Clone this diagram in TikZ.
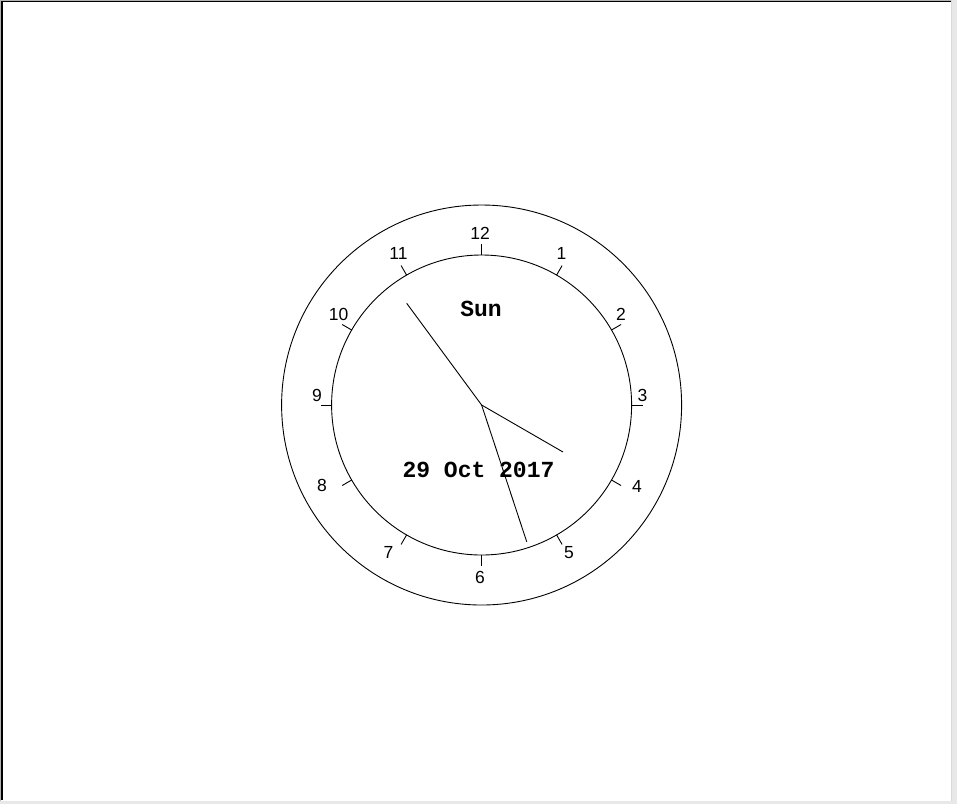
\documentclass[tikz,border=0pt]{standalone}
\usepackage{fontspec}
\setmainfont{Liberation Sans}
\newfontfamily\monob{Liberation Mono}[BoldFont={Liberation Mono Bold}]
\usetikzlibrary{calc}
\begin{document}
\begin{tikzpicture}[x=1pt,y=-1pt,
  clockline/.style={line width=0.9pt,draw=black},
  hourlbl/.style={inner sep=0pt,font=\fontsize{17.5}{20}\selectfont},
  monolbl/.style={inner sep=0pt,font=\monob\bfseries\fontsize{23}{26}\selectfont}]
\useasboundingbox (0,0) rectangle (957,804);
\fill[white] (0,0) rectangle (957,804);
% window frame
\fill[gray!60] (0,0) rectangle (952,0.8);
\fill[gray!60] (0,0) rectangle (0.8,801);
\fill[black] (0.8,0.8) rectangle (951,2.2);
\fill[black] (0.8,0.8) rectangle (3,800);
\fill[gray!18] (951,0) rectangle (957,804);
\fill[gray!30] (951,0) rectangle (952.3,801);
\fill[gray!18] (0,800.5) rectangle (957,804);
% clock
\coordinate (c) at (481.6,405);
\draw[clockline] (c) circle[radius=200];
\draw[clockline] (c) circle[radius=150];
\foreach \i in {0,...,11}{
  \draw[clockline] ($(c)+({90-30*\i}:150)$) coordinate (t\i) -- ($(c)+({90-30*\i}:161)$);
}
\node[hourlbl] (l12) at (480,233) {12};
\node[hourlbl] (l1) at (561.5,253.5) {1};
\node[hourlbl] (l2) at (621,314) {2};
\node[hourlbl] (l3) at (642.5,395) {3};
\node[hourlbl] (l4) at (637,486) {4};
\node[hourlbl] (l5) at (569,552.5) {5};
\node[hourlbl] (l6) at (480,577) {6};
\node[hourlbl] (l7) at (388.5,552) {7};
\node[hourlbl] (l8) at (322,485) {8};
\node[hourlbl] (l9) at (317,395) {9};
\node[hourlbl] (l10) at (338.5,314) {10};
\node[hourlbl] (l11) at (398.5,253.5) {11};
\node[monolbl] (day) at (481,308.5) {Sun};
\node[monolbl] (date) at (478.5,470) {29 Oct 2017};
\coordinate (hh) at (563,452);
\coordinate (mh) at (526.7,541.7);
\coordinate (sh) at (406.7,303.3);
\draw[clockline] (c) -- (hh);
\draw[clockline] (c) -- (mh);
\draw[clockline] (c) -- (sh);
\end{tikzpicture}
\end{document}
